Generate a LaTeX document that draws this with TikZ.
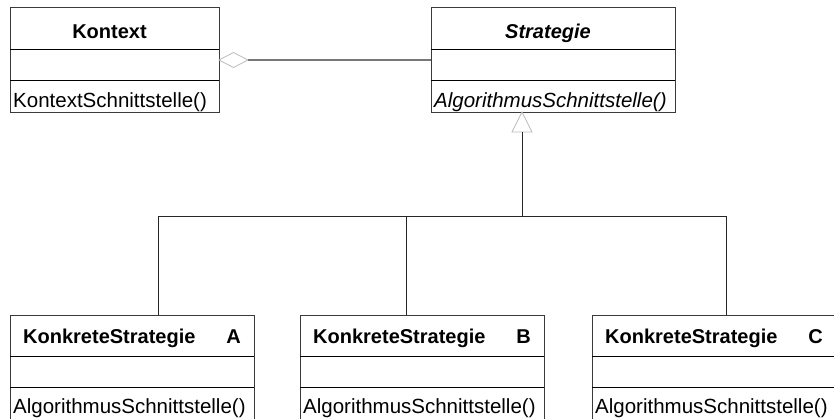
\documentclass[tikz,border=0pt]{standalone}
\usepackage{fontspec}
\setmainfont{Liberation Sans}
\usetikzlibrary{calc}
\definecolor{boxline}{HTML}{3A3A3A}
\definecolor{assocline}{HTML}{777777}
\definecolor{tipline}{HTML}{BBBBBB}
\tikzset{
  classbox/.style={draw=boxline, line width=1pt, rectangle, anchor=north west,
    minimum width=#1, minimum height=110pt, inner sep=0pt, outer sep=0pt},
  wide/.style={classbox=244pt},
  divider/.style={draw=black, line width=0.9pt},
  conn/.style={draw=black!85, line width=1pt},
  classname/.style={font=\fontsize{20}{22}\selectfont\bfseries, anchor=base, inner sep=0pt},
  opname/.style={font=\fontsize{20.5}{22}\selectfont, anchor=base west, inner sep=0pt},
}
\begin{document}
\begin{tikzpicture}[x=1pt, y=-1pt]
\useasboundingbox (0,0) rectangle (834,418);
\clip (0,0) rectangle (834,418);

% class boxes
\node[classbox=209pt, minimum height=105pt] (kontext) at (10,7) {};
\node[wide, minimum height=105pt] (strategie) at (431,7) {};
\node[wide] (ka) at (10,315) {};
\node[wide] (kb) at (300,315) {};
\node[wide] (kc) at (592,315) {};

% compartments
\foreach \c in {kontext, strategie} {
  \draw[divider] ($(\c.north west)+(0,42)$) -- ($(\c.north east)+(0,42)$);
  \draw[divider] ($(\c.north west)+(0,73)$) -- ($(\c.north east)+(0,73)$);
}
\foreach \c in {ka, kb, kc} {
  \draw[divider] ($(\c.north west)+(0,41)$) -- ($(\c.north east)+(0,41)$);
  \draw[divider] ($(\c.north west)+(0,72)$) -- ($(\c.north east)+(0,72)$);
}

% class names
\node[classname] (kontextname) at ($(kontext.north)+(-5,31)$) {Kontext};
\node[classname] (strategiename) at ($(strategie.north)+(-5,31)$) {\itshape Strategie};
\foreach \c/\l in {ka/A, kb/B, kc/C} {
  \node[classname, anchor=base west] (\c name) at ($(\c.north west)+(13,28)$) {KonkreteStrategie};
  \node[classname, anchor=base east] (\c letter) at ($(\c.north east)+(-13,28)$) {\l};
}

% operations
\node[opname] (kontextop) at ($(kontext.north west)+(3,100)$) {KontextSchnittstelle()};
\node[opname] (strategieop) at ($(strategie.north west)+(3,100)$) {\itshape AlgorithmusSchnittstelle()};
\foreach \c in {ka, kb, kc}
  \node[opname] (\c op) at ($(\c.north west)+(3,98)$) {AlgorithmusSchnittstelle()};

% aggregation Kontext -> Strategie
\coordinate (aggtip) at ($(kontext.north east)+(0,53)$);
\coordinate (aggend) at ($(aggtip)+(29,0)$);
\draw[draw=tipline, line width=0.8pt] (aggtip) -- ++(14.5,-7.5) -- (aggend) -- ++(-14.5,7.5) -- cycle;
\draw[draw=assocline, line width=1.6pt] (aggend) -- (strategie.west |- aggtip);

% generalization
\coordinate (gen) at ($(strategie.south west)+(91,0)$);
\coordinate (genbase) at ($(gen)+(0,20)$);
\coordinate (bus) at ($(gen)+(0,104)$);
\draw[draw=tipline, line width=0.8pt] (gen) -- ($(genbase)+(-10,0)$) -- ($(genbase)+(10,0)$) -- cycle;
\draw[conn] (genbase) -- (bus);
\coordinate (busa) at ($(ka.north west)+(148,0)$);
\coordinate (busb) at ($(kb.north west)+(106,0)$);
\coordinate (busc) at ($(kc.north west)+(134,0)$);
\draw[conn] (busa |- bus) -- (busc |- bus);
\draw[conn] (busa |- bus) -- (busa);
\draw[conn] (busb |- bus) -- (busb);
\draw[conn] (busc |- bus) -- (busc);
\end{tikzpicture}
\end{document}
